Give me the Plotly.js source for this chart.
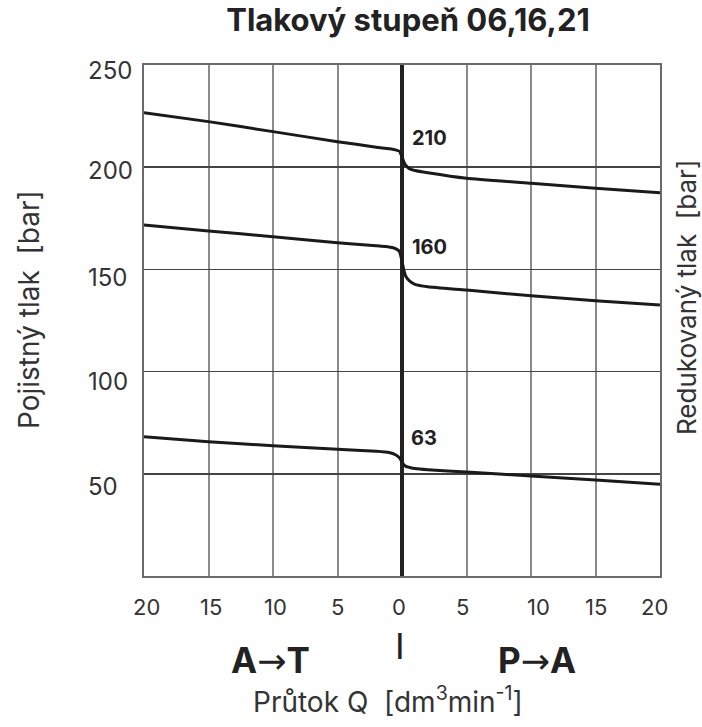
<!DOCTYPE html>
<html>
<head>
<meta charset="utf-8">
<script src="https://cdn.plot.ly/plotly-3.0.1.min.js"></script>
<style>html,body{margin:0;padding:0;background:#fff;}#chart{width:702px;height:727px;}</style>
</head>
<body>
<div id="chart"></div>
<script>
// ---- data ----
const flowQ = [-20,-15,-10,-5,-2,-1,-0.5,-0.2,0,0.15,0.3,0.6,1,2,5,10,15,20];
const p210 = [226.7,222.3,217.4,212.5,209.8,209.0,208.5,207.8,205.0,202.5,200.8,199.2,198.4,197.3,194.6,192.1,189.7,187.5];
const p160 = [171.7,168.8,166.0,163.0,161.6,161.0,160.2,158.8,154.0,149.5,146.5,144.3,142.7,141.5,139.9,137.1,134.7,132.6];
const p63  = [68.1,65.7,63.7,62.0,61.0,60.4,59.3,57.8,55.8,54.4,53.6,53.1,52.6,52.0,50.9,48.9,47.0,44.9];
const seriesNames = ['210','160','63'];
const seriesLabelX = [0.6, 0.65, 0.55];
const seriesLabelY = [214.1, 161.1, 67.4];

const xGridVals = [-20,-15,-10,-5,0,5,10,15,20];
const xTickText = ['20','15','10','5','0','5','10','15','20'];
const xTickPos  = [-19.8,-14.8,-9.8,-5.0,-0.2,4.7,10.6,15.0,19.6];
const yGridVals = [50,100,150,200];
const yTickText = ['50','100','150','200','250'];
const yTickPos  = [43.7,95.1,145.8,198.6,247.2];

const titleText = 'Tlakový stupeň 06,16,21';
const yTitleLeft = 'Pojistný tlak&nbsp;&nbsp;[bar]';
const yTitleRight = 'Redukovaný tlak&nbsp;&nbsp;[bar]';
const xTitle = 'Průtok Q&nbsp;&nbsp;[dm<sup>3</sup>min<sup>-1</sup>]';
const dirLeft = ['A','T'], dirMid = 'I', dirRight = ['P','A'];
const arrow = '<span style="font-family:DejaVu Sans;font-weight:normal">→</span>';

// ---- chart ----
const FONT = 'Inter, Liberation Sans, Arial, sans-serif';
const lineStyle = {color:'#1a1a1a', width:3, shape:'spline', smoothing:0.5};
const traces = [p210,p160,p63].map((ys,i)=>({
  x: flowQ, y: ys, type:'scatter', mode:'lines', name: seriesNames[i],
  line: lineStyle, hoverinfo:'skip'
}));

const ann = [];
seriesNames.forEach((t,i)=>ann.push({xref:'x',yref:'y',x:seriesLabelX[i],y:seriesLabelY[i],text:'<b>'+t+'</b>',showarrow:false,
  xanchor:'left',yanchor:'middle',font:{family:FONT,size:20,color:'#222'}}));
yTickText.forEach((t,i)=>ann.push({xref:'paper',yref:'y',x:(86-144)/516,y:yTickPos[i],text:t,showarrow:false,
  xanchor:'left',yanchor:'middle',font:{family:FONT,size:24,color:'#333'}}));
xTickText.forEach((t,i)=>ann.push({xref:'x',yref:'paper',x:xTickPos[i],y:(576-607)/511,text:t,showarrow:false,
  xanchor:'center',yanchor:'middle',font:{family:FONT,size:22,color:'#333'}}));
ann.push({xref:'x',yref:'paper',x:-10.2,y:(576-660)/511,text:'<b>'+dirLeft[0]+arrow+dirLeft[1]+'</b>',showarrow:false,xanchor:'center',yanchor:'middle',font:{family:FONT,size:35,color:'#222'}});
ann.push({xref:'x',yref:'paper',x:10.5,y:(576-660)/511,text:'<b>'+dirRight[0]+arrow+dirRight[1]+'</b>',showarrow:false,xanchor:'center',yanchor:'middle',font:{family:FONT,size:35,color:'#222'}});
ann.push({xref:'x',yref:'paper',x:-0.15,y:(576-646)/511,text:dirMid,showarrow:false,xanchor:'center',yanchor:'middle',font:{family:FONT,size:36,color:'#222'}});
ann.push({xref:'paper',yref:'paper',x:(388-144)/516,y:(576-700)/511,text:xTitle,showarrow:false,xanchor:'center',yanchor:'middle',font:{family:FONT,size:28,color:'#333'}});
ann.push({xref:'paper',yref:'paper',x:(29-144)/516,y:(576-310)/511,text:yTitleLeft,textangle:-90,showarrow:false,xanchor:'center',yanchor:'middle',font:{family:FONT,size:28,color:'#333'}});
ann.push({xref:'paper',yref:'paper',x:(686-144)/516,y:(576-298)/511,text:yTitleRight,textangle:-90,showarrow:false,xanchor:'center',yanchor:'middle',font:{family:FONT,size:26,color:'#333'}});

const layout = {
  width:702, height:727,
  margin:{l:144, r:42, t:65, b:151, pad:0},
  paper_bgcolor:'#fff', plot_bgcolor:'#fff',
  showlegend:false,
  title:{text:'<b>'+titleText+'</b>', font:{family:FONT,size:31,color:'#222'},
         xref:'paper', x:(408-144)/516, xanchor:'center', yref:'container', y:1-20/727, yanchor:'middle'},
  xaxis:{range:[-20,20], tickmode:'array', tickvals:xGridVals, showticklabels:false, ticks:'',
         showgrid:true, gridcolor:'#8a8a8a', gridwidth:2,
         zeroline:true, zerolinecolor:'#222', zerolinewidth:4,
         showline:true, mirror:true, linecolor:'#6a6a6a', linewidth:2, fixedrange:true},
  yaxis:{range:[0,250], tickmode:'array', tickvals:yGridVals, showticklabels:false, ticks:'',
         showgrid:true, gridcolor:'#444', gridwidth:1.5, zeroline:false,
         showline:true, mirror:true, linecolor:'#6a6a6a', linewidth:2, fixedrange:true},
  annotations: ann
};
Plotly.newPlot('chart', traces, layout, {staticPlot:true, displayModeBar:false});
</script>
</body>
</html>
